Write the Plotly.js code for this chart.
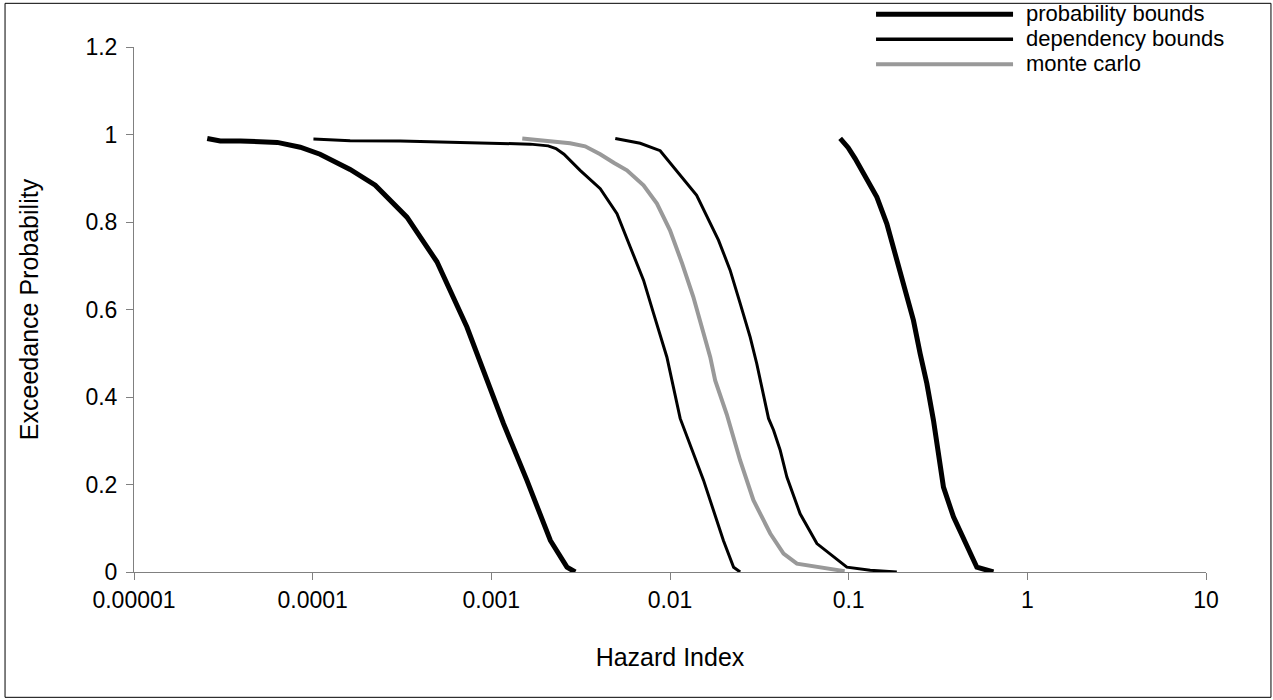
<!DOCTYPE html>
<html>
<head>
<meta charset="utf-8">
<script src="https://cdn.plot.ly/plotly-3.0.1.min.js"></script>
<style>html,body{margin:0;padding:0;background:#fff;}#chart{width:1273px;height:700px;}</style>
</head>
<body>
<div id="chart"></div>
<script>
// Probability bounds (left edge)
const pbLowX = [2.57e-5, 3.04e-5, 3.94e-5, 5.09e-5, 6.34e-5, 8.52e-5, 1.10e-4, 1.62e-4, 2.24e-4, 3.37e-4, 4.09e-4, 4.96e-4, 7.30e-4, 8.48e-4, 1.03e-3, 1.17e-3, 1.58e-3, 2.14e-3, 2.65e-3, 2.95e-3];
const pbLowY = [0.991, 0.985, 0.985, 0.982, 0.982, 0.971, 0.955, 0.920, 0.884, 0.811, 0.762, 0.709, 0.560, 0.491, 0.400, 0.339, 0.210, 0.072, 0.011, 0.0];
// Probability bounds (right edge)
const pbHighX = [0.0896, 0.0994, 0.1087, 0.1186, 0.1438, 0.1636, 0.1861, 0.2117, 0.2305, 0.2513, 0.2739, 0.2982, 0.3181, 0.3393, 0.3860, 0.4587, 0.5217, 0.646];
const pbHighY = [0.991, 0.970, 0.945, 0.918, 0.857, 0.796, 0.712, 0.636, 0.575, 0.499, 0.431, 0.347, 0.271, 0.194, 0.126, 0.057, 0.011, 0.0];
// Dependency bounds (left edge)
const dbLowX = [1.01e-4, 1.62e-4, 3.09e-4, 5.89e-4, 1.12e-3, 1.65e-3, 2.08e-3, 2.30e-3, 2.55e-3, 3.14e-3, 4.07e-3, 5.05e-3, 5.99e-3, 7.11e-3, 8.09e-3, 9.61e-3, 1.14e-2, 1.54e-2, 1.99e-2, 2.27e-2, 2.47e-2];
const dbLowY = [0.990, 0.986, 0.985, 0.982, 0.980, 0.978, 0.974, 0.968, 0.955, 0.918, 0.876, 0.819, 0.743, 0.667, 0.591, 0.491, 0.351, 0.210, 0.072, 0.011, 0.0];
// Dependency bounds (right edge)
const dbHighX = [4.94e-3, 6.81e-3, 8.81e-3, 1.09e-2, 1.41e-2, 1.87e-2, 2.17e-2, 2.47e-2, 2.81e-2, 3.06e-2, 3.20e-2, 3.56e-2, 3.80e-2, 4.14e-2, 4.51e-2, 5.13e-2, 5.35e-2, 6.64e-2, 7.88e-2, 9.77e-2, 0.132, 0.186];
const dbHighY = [0.991, 0.980, 0.963, 0.918, 0.861, 0.758, 0.690, 0.614, 0.537, 0.476, 0.438, 0.351, 0.324, 0.278, 0.217, 0.156, 0.133, 0.065, 0.042, 0.011, 0.004, 0.0];
// Monte Carlo
const mcX = [1.49e-3, 2.00e-3, 2.76e-3, 3.35e-3, 3.70e-3, 4.07e-3, 4.87e-3, 5.74e-3, 7.11e-3, 8.45e-3, 1.00e-2, 1.17e-2, 1.35e-2, 1.51e-2, 1.68e-2, 1.79e-2, 2.08e-2, 2.47e-2, 2.93e-2, 3.64e-2, 4.32e-2, 5.13e-2, 6.64e-2, 8.0e-2, 9.5e-2];
const mcY = [0.991, 0.985, 0.980, 0.973, 0.965, 0.955, 0.935, 0.918, 0.884, 0.842, 0.781, 0.705, 0.629, 0.560, 0.491, 0.438, 0.360, 0.255, 0.164, 0.088, 0.042, 0.019, 0.011, 0.006, 0.002];

const xTickVals = [0.00001, 0.0001, 0.001, 0.01, 0.1, 1, 10];
const xTickText = ["0.00001", "0.0001", "0.001", "0.01", "0.1", "1", "10"];
const yTickVals = [0, 0.2, 0.4, 0.6, 0.8, 1, 1.2];
const yTickText = ["0", "0.2", "0.4", "0.6", "0.8", "1", "1.2"];
const legendNames = ["probability bounds", "dependency bounds", "monte carlo"];

const FONT = "Liberation Sans, Arial, sans-serif";
const styles = [
  {color: "#000000", width: 5},
  {color: "#000000", width: 3},
  {color: "#999999", width: 4}
];

const traces = [
  {x: pbLowX, y: pbLowY, name: legendNames[0], mode: "lines", line: styles[0]},
  {x: dbLowX, y: dbLowY, name: legendNames[1], mode: "lines", line: styles[1]},
  {x: mcX, y: mcY, name: legendNames[2], mode: "lines", line: styles[2]},
  {x: dbHighX, y: dbHighY, name: legendNames[1], mode: "lines", line: styles[1]},
  {x: pbHighX, y: pbHighY, name: legendNames[0], mode: "lines", line: styles[0]}
];

// Hand-built legend (long line samples, tight rows) in paper coordinates
const legRowsY = [1.0623, 1.0147, 0.9670];
const legendShapes = legendNames.map((n, i) => ({
  type: "line", xref: "paper", yref: "paper",
  x0: 0.6922, x1: 0.8200, y0: legRowsY[i], y1: legRowsY[i],
  line: {color: styles[i].color, width: i === 1 ? 3.5 : styles[i].width}
}));
const legendAnnots = legendNames.map((n, i) => ({
  text: n, xref: "paper", yref: "paper", x: 0.8302, y: legRowsY[i] + 0.002,
  xanchor: "left", yanchor: "middle", showarrow: false,
  font: {family: FONT, size: 22, color: "#000"}
}));

const layout = {
  width: 1273, height: 700,
  margin: {l: 134, r: 67, t: 47, b: 128, pad: 0},
  paper_bgcolor: "#fff", plot_bgcolor: "#fff",
  font: {family: FONT, size: 23, color: "#000"},
  showlegend: false,
  xaxis: {
    type: "log", range: [-5, 1], tickmode: "array", tickvals: xTickVals, ticktext: xTickText,
    showgrid: false, zeroline: false, showline: true, linecolor: "#808080", linewidth: 1,
    ticks: "outside", ticklen: 7, tickcolor: "#808080", tickfont: {family: FONT, size: 23, color: "#000"},
    title: {text: "Hazard Index", font: {family: FONT, size: 25, color: "#000"}, standoff: 36},
    automargin: false
  },
  yaxis: {
    range: [0, 1.2], tickmode: "array", tickvals: yTickVals, ticktext: yTickText,
    showgrid: false, zeroline: false, showline: true, linecolor: "#808080", linewidth: 1,
    ticks: "outside", ticklen: 7, tickcolor: "#808080", tickfont: {family: FONT, size: 23, color: "#000"},
    ticklabelstandoff: 4,
    title: {text: "Exceedance Probability", font: {family: FONT, size: 25, color: "#000"}, standoff: 39},
    automargin: false
  },
  shapes: [
    {type: "rect", xref: "paper", yref: "paper", x0: -0.1203, x1: 1.0606, y0: -0.2387, y1: 1.0832,
     line: {color: "#000", width: 1}, fillcolor: "rgba(0,0,0,0)"}
  ].concat(legendShapes),
  annotations: legendAnnots
};

Plotly.newPlot("chart", traces, layout, {displayModeBar: false, staticPlot: true});
</script>
</body>
</html>
